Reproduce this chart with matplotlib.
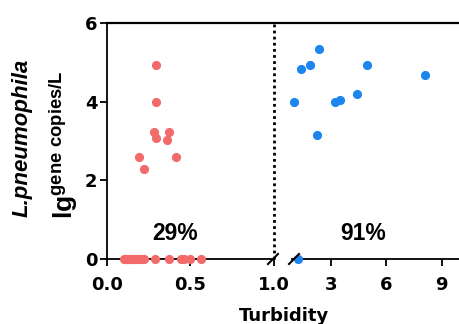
import matplotlib
matplotlib.use("Agg")
import matplotlib.pyplot as plt
from matplotlib.lines import Line2D

plt.rcParams['font.family'] = ['Liberation Sans', 'DejaVu Sans']
plt.rcParams['font.weight'] = 'bold'
plt.rcParams['mathtext.fontset'] = 'custom'
plt.rcParams['mathtext.rm'] = 'Liberation Sans:bold'
plt.rcParams['mathtext.bf'] = 'Liberation Sans:bold'
plt.rcParams['mathtext.it'] = 'Liberation Sans:italic:bold'

# Low turbidity group (<1 NTU), red
red_pos_x = [0.293, 0.293, 0.283, 0.293, 0.373, 0.361, 0.193, 0.223, 0.414]
red_pos_y = [4.92, 3.99, 3.24, 3.07, 3.22, 3.02, 2.59, 2.29, 2.59]
red_zero_x = [0.10, 0.11, 0.12, 0.13, 0.14, 0.15, 0.16, 0.17, 0.18, 0.19, 0.20,
              0.21, 0.22, 0.13, 0.17, 0.285, 0.369, 0.444, 0.464, 0.50, 0.564, 0.115]
red_zero_y = [0] * len(red_zero_x)

# High turbidity group (>1 NTU), blue
blue_x = [2.35, 1.38, 1.86, 4.95, 8.12, 1.02, 3.22, 3.52, 4.42, 2.28, 1.2]
blue_y = [5.34, 4.84, 4.93, 4.93, 4.67, 3.99, 3.99, 4.05, 4.20, 3.16, 0.0]

left_ticks = [0.0, 0.5, 1.0]
left_ticklabels = ['0.0', '0.5', '1.0']
right_ticks = [3, 6, 9]
y_ticks = [0, 2, 4, 6]
pct_labels = ['29%', '91%']

RED = '#F26A6A'
BLUE = '#1C86EE'
TICKFONT = dict(family='DejaVu Sans', weight='bold', size=13)

W, H = 460, 324
fig = plt.figure(figsize=(W / 100, H / 100), dpi=100)

x0, x1, x2, x3 = 107, 274, 292, 460
ybot, ytop = 259, 23
axL = fig.add_axes([x0 / W, (H - ybot) / H, (x1 - x0) / W, (ybot - ytop) / H])
axR = fig.add_axes([x2 / W, (H - ybot) / H, (x3 - x2) / W, (ybot - ytop) / H])

for ax in (axL, axR):
    ax.set_ylim(0, 6)
    ax.spines['top'].set_visible(False)
    ax.spines['right'].set_visible(False)
    ax.spines['bottom'].set_linewidth(1.3)
    ax.spines['left'].set_linewidth(1.3)
    ax.tick_params(axis='y', direction='out', length=5, width=1.3, pad=2)
    ax.tick_params(axis='x', direction='out', length=5, width=1.3, pad=7)

axL.set_xlim(0, 1.0)
axL.set_xticks(left_ticks)
axL.set_xticklabels(left_ticklabels, fontdict=TICKFONT)
axL.set_yticks(y_ticks)
axL.set_yticklabels([str(v) for v in y_ticks], fontdict=TICKFONT)

axR.set_xlim(0.9, 10)
axR.set_xticks(right_ticks)
axR.set_xticklabels([str(v) for v in right_ticks], fontdict=TICKFONT)
axR.spines['left'].set_visible(False)
axR.tick_params(axis='y', left=False, labelleft=False)

ms = 6.6
axL.plot(red_pos_x, red_pos_y, 'o', color=RED, ms=ms, mec='none', clip_on=False, zorder=3)
axL.plot(red_zero_x, red_zero_y, 'o', color=RED, ms=ms, mec='none', clip_on=False, zorder=3)
axR.plot(blue_x, blue_y, 'o', color=BLUE, ms=ms, mec='none', clip_on=False, zorder=3)

axL.axvline(1.0, color='black', ls=(0, (1, 1.2)), lw=2, clip_on=False, zorder=2)

axL.text(0.41, 0.66, pct_labels[0], ha='center', va='center', fontsize=16.5, fontweight='bold')
axR.text(4.74, 0.66, pct_labels[1], ha='center', va='center', fontsize=16.5, fontweight='bold')

# top border line across both panels
fig.add_artist(Line2D([x0 / W, 1.0], [(H - ytop) / H] * 2, transform=fig.transFigure,
                      color='black', lw=1.6))

# break marks
def slash(xc):
    fig.add_artist(Line2D([(xc - 5) / W, (xc + 5) / W],
                          [(H - ybot - 5) / H, (H - ybot + 5) / H],
                          transform=fig.transFigure, color='black', lw=1.5))
slash(273)
slash(294)

fig.text(284 / W, 1 - 316 / H, 'Turbidity', ha='center', va='center',
         family='DejaVu Sans', fontsize=13, fontweight='bold')
fig.text(22 / W, 1 - 138 / H, 'L.pneumophila', rotation=90, ha='center', va='center',
         fontsize=16, fontweight='bold', style='italic')
fig.text(64 / W, 1 - 145 / H, r'lg$^{\mathrm{gene\ copies/L}}$', rotation=90,
         ha='center', va='center', fontsize=19, fontweight='bold')

fig.savefig('out.png', dpi=100)
